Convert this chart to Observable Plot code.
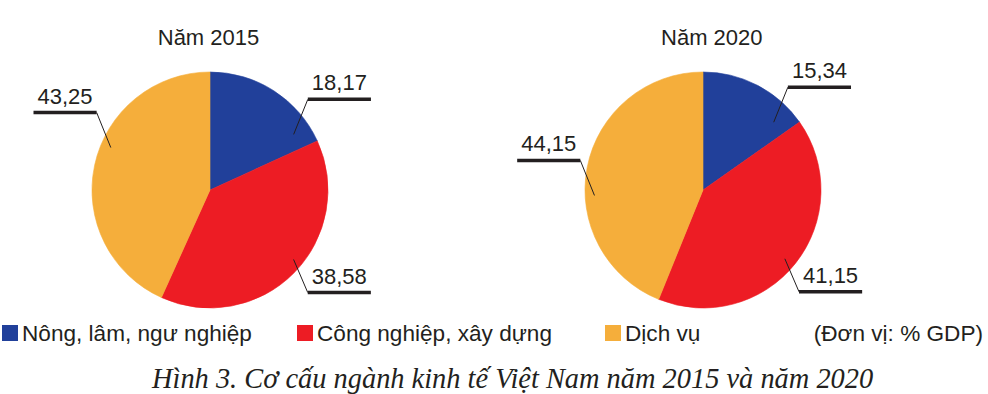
<!DOCTYPE html>
<html><head><meta charset="utf-8">
<script src="https://cdn.jsdelivr.net/npm/d3@7"></script>
<script src="https://cdn.jsdelivr.net/npm/@observablehq/plot@0.6"></script>
<style>
html,body{margin:0;padding:0;background:#fff;}
body{width:988px;height:394px;overflow:hidden;position:relative;font-family:"Liberation Sans",Arial,sans-serif;color:#231f20;}
#chart svg{display:block;}
.legend{position:absolute;left:0;top:315px;width:988px;height:38px;font-size:22.6px;line-height:38px;}
.item{position:absolute;top:0;white-space:nowrap;}
.sw{position:absolute;top:10px;left:0;width:16px;height:16px;}
.item .t{position:absolute;left:20px;top:0;}
.unit{position:absolute;right:5px;top:0;white-space:nowrap;}
.caption{position:absolute;left:152px;top:363px;font-family:"Liberation Serif","Times New Roman",serif;font-style:italic;font-size:28.4px;line-height:32px;white-space:nowrap;color:#231f20;}
</style></head><body>
<div id="chart"></div>
<div class="legend" id="legend"></div>
<div class="caption" id="caption"></div>
<script>
// ---- data ----
const years = ["Năm 2015", "Năm 2020"];
const sectors = ["Nông, lâm, ngư nghiệp", "Công nghiệp, xây dựng", "Dịch vụ"];
const values2015 = [18.17, 38.58, 43.25];
const values2020 = [15.34, 41.15, 44.15];
const unitLabel = "(Đơn vị: % GDP)";
const captionText = "Hình 3. Cơ cấu ngành kinh tế Việt Nam năm 2015 và năm 2020";

// ---- styles / layout ----
const sectorColors = ["#21409a", "#ed1c24", "#f5ae3b"];
const ink = "#231f20";
const W = 988, H = 315, RPX = 118;            // pie radius in px
const centerPx = {x: 210, y: 190};
const pieCenters = [0, 4.178];                 // in radius units
const titleY = 1.229, titleDx = [-0.017, 0.07];
const leaderLayout = [
  [{a: 56, r: 0.85, side: 1, up: 1}, {a: 129.7, r: 0.915, side: 1, up: -1}, {a: 293.3, r: 0.92, side: -1, up: 1}],
  [{a: 45.8, r: 0.83, side: 1, up: 1}, {a: 130, r: 0.9, side: 1, up: -1}, {a: 267.4, r: 0.925, side: -1, up: 1}]
];
const elbowDx = 0.12, elbowUp = 0.297, elbowDown = 0.28, shelf = 0.535;
const legendLeft = [2, 297, 605];

const seriesValues = [values2015, values2020];
const slices = years.flatMap((year, p) => seriesValues[p].map((value, i) => ({year, p, sector: sectors[i], i, value})));
const fmt = v => d3.format(".2f")(v).replace(".", ",");

const leaders = slices.map(d => {
  const L = leaderLayout[d.p][d.i];
  const rad = L.a * Math.PI / 180;
  const x0 = pieCenters[d.p] + L.r * Math.sin(rad);
  const y0 = L.r * Math.cos(rad);
  const x1 = x0 + L.side * elbowDx;
  const y1 = y0 + (L.up > 0 ? elbowUp : -elbowDown);
  const x2 = x1 + L.side * shelf;
  return {...d, x0, y0, x1, y1, x2, xm: (x1 + x2) / 2, label: fmt(d.value)};
});

function pies(index, scales, values, dimensions, context) {
  const {x, y} = scales;
  const doc = (context && context.document) || document;
  const g = d3.select(doc.createElementNS("http://www.w3.org/2000/svg", "g"));
  const rpx = x(1) - x(0);
  const arc = d3.arc().innerRadius(0).outerRadius(rpx);
  const pie = d3.pie().sort(null).value(d => d.value);
  years.forEach((year, p) => {
    const rows = slices.filter(d => d.p === p);
    g.append("g").attr("transform", `translate(${x(pieCenters[p])},${y(0)})`)
      .selectAll("path").data(pie(rows)).join("path")
      .attr("fill", d => sectorColors[d.data.i])
      .attr("stroke", d => sectorColors[d.data.i])
      .attr("stroke-width", 0.6)
      .attr("d", arc);
  });
  return g.node();
}

const chart = Plot.plot({
  width: W, height: H, margin: 0,
  x: {domain: [-centerPx.x / RPX, (W - centerPx.x) / RPX], range: [0, W], axis: null},
  y: {domain: [-(H - centerPx.y) / RPX, centerPx.y / RPX], range: [H, 0], axis: null},
  style: {fontFamily: "'Liberation Sans', Arial, sans-serif", background: "white", color: ink, overflow: "visible"},
  marks: [
    pies,
    Plot.link(leaders, {x1: "x0", y1: "y0", x2: "x1", y2: "y1", stroke: ink, strokeWidth: 1}),
    Plot.link(leaders, {x1: "x1", y1: "y1", x2: "x2", y2: "y1", stroke: ink, strokeWidth: 3.5, strokeLinecap: "butt"}),
    Plot.text(leaders, {x: "xm", y: "y1", text: "label", dy: -9, lineAnchor: "bottom", fontSize: 22, fill: ink}),
    Plot.text(years, {x: (d, i) => pieCenters[i] + titleDx[i], y: () => titleY, text: d => d, lineAnchor: "bottom", fontSize: 22, fill: ink})
  ]
});
document.getElementById("chart").append(chart);

// legend
const legend = d3.select("#legend");
sectors.forEach((s, i) => {
  const it = legend.append("div").attr("class", "item").style("left", legendLeft[i] + "px");
  it.append("div").attr("class", "sw").style("background", sectorColors[i]);
  it.append("span").attr("class", "t").text(s);
});
legend.append("div").attr("class", "unit").text(unitLabel);
document.getElementById("caption").textContent = captionText;
</script></body></html>
